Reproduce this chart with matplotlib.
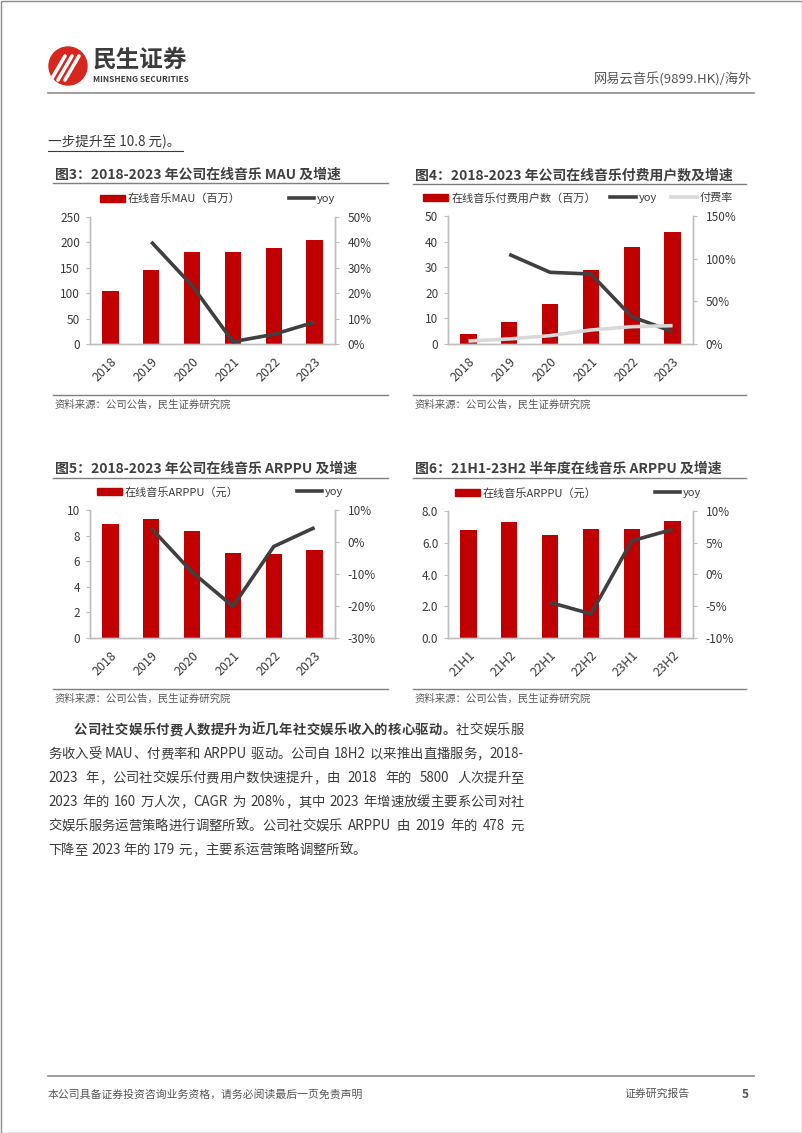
import numpy as np
import matplotlib
matplotlib.use('Agg')
import matplotlib.pyplot as plt
from matplotlib.patches import Patch, Circle, Rectangle
from matplotlib.lines import Line2D
from matplotlib.ticker import FuncFormatter

plt.rcParams['font.family'] = ['Noto Sans CJK SC', 'DejaVu Sans']

# ---- data ----
years = ['2018', '2019', '2020', '2021', '2022', '2023']
halves = ['21H1', '21H2', '22H1', '22H2', '23H1', '23H2']

mau = [104, 146.5, 180.5, 182, 189, 205.5]
mau_yoy = [np.nan, 40.2, 23.0, 0.9, 3.8, 8.6]

paid_users = [3.9, 8.5, 15.6, 28.9, 38.0, 43.9]
paid_yoy = [np.nan, 105, 84, 82, 32, 14.5]
pay_rate = [3.5, 5.9, 9.8, 16.4, 20.3, 21.5]

arppu = [8.88, 9.27, 8.36, 6.65, 6.57, 6.88]
arppu_yoy = [np.nan, 4.3, -9.4, -20.1, -1.4, 4.5]

arppu_h = [6.81, 7.33, 6.51, 6.87, 6.85, 7.35]
arppu_h_yoy = [np.nan, np.nan, -4.4, -6.2, 5.3, 7.1]

RED = '#c00000'
DARK = '#404040'
LIGHT = '#d9d9d9'
SPINE = '#bfbfbf'
TXT = '#3a3a3a'
BODY_FS = 9.6

W, H = 802, 1133
fig = plt.figure(figsize=(W / 100, H / 100), dpi=100)
renderer = fig.canvas.get_renderer()

bg = fig.add_axes([0, 0, 1, 1], zorder=0)
bg.set_xlim(0, W)
bg.set_ylim(H, 0)
bg.axis('off')

# page border
bg.add_patch(Rectangle((0.5, 0.5), W - 1, H - 1, fill=False, ec='#8c8c8c', lw=1))

# header logo
bg.add_patch(Circle((68, 66), 19, color='#d7261e'))
for dx in (-7, 0, 7):
    bg.plot([58 + dx, 72 + dx], [80, 56], color='white', lw=2.6, solid_capstyle='round')
bg.text(93, 60, '民生证券', fontsize=17, fontweight='bold', color='#3c3c3c', va='center', ha='left')
bg.text(93, 79, 'MINSHENG SECURITIES', fontsize=6, fontweight='bold', color='#3c3c3c', va='center', ha='left')
bg.text(752, 79, '网易云音乐(9899.HK)/海外', fontsize=9.5, color='#555555', va='center', ha='right')
bg.plot([48, 754], [93, 93], color='#8c8c8c', lw=1.2)

bg.text(48, 142, '一步提升至 10.8 元)。', fontsize=9.8, color=TXT, va='center', ha='left')
bg.plot([48, 183], [151, 151], color=TXT, lw=0.8)


def pct(v, pos):
    return f'{v:.0f}%'


def make_chart(box, title, title_y, line_y, src_y, x0, x1, cats, bars, bar_label, lines,
               ylim_l, yticks_l, ylim_r, yticks_r, lfmt, legend_cs, legend_dx):
    # title, rule lines and source
    bg.text(x0 + 2, title_y, title, fontsize=10, fontweight='bold', color=DARK, va='center', ha='left')
    bg.plot([x0, x1], [line_y, line_y], color='#7f7f7f', lw=1)
    bg.plot([x0, x1], [src_y, src_y], color='#7f7f7f', lw=1)
    bg.text(x0 + 2, src_y + 10, '资料来源：公司公告，民生证券研究院', fontsize=7.5, color='#595959',
            va='center', ha='left')

    left, top, right, bottom = box
    ax = fig.add_axes([left / W, 1 - bottom / H, (right - left) / W, (bottom - top) / H], zorder=2)
    x = np.arange(len(cats))
    ax.bar(x, bars, width=0.4, color=RED, zorder=2)
    ax.set_xlim(-0.5, len(cats) - 0.5)
    ax.set_ylim(*ylim_l)
    ax.set_yticks(yticks_l)
    ax.yaxis.set_major_formatter(FuncFormatter(lfmt))
    ax.set_xticks(x)
    ax.set_xticklabels(cats, rotation=45, ha='right', va='top', rotation_mode='anchor')
    ax.tick_params(axis='x', length=0, pad=8, labelsize=9, labelcolor=TXT)
    ax.tick_params(axis='y', length=3, width=0.8, color=SPINE, pad=4, labelsize=8.5, labelcolor=TXT)
    ax.spines['top'].set_visible(False)
    for s in ('left', 'bottom', 'right'):
        ax.spines[s].set_color(SPINE)
        ax.spines[s].set_linewidth(1)

    ax2 = ax.twinx()
    handles = [Patch(color=RED, label=bar_label)]
    for vals, color, label in lines:
        ax2.plot(x, vals, color=color, lw=2.6, zorder=3, solid_capstyle='butt')
        handles.append(Line2D([], [], color=color, lw=2.6, label=label))
    ax2.set_ylim(*ylim_r)
    ax2.set_yticks(yticks_r)
    ax2.yaxis.set_major_formatter(FuncFormatter(pct))
    ax2.tick_params(axis='y', length=3, width=0.8, color=SPINE, pad=6, labelsize=8.5, labelcolor=TXT)
    ax2.spines['top'].set_visible(False)
    for s in ('left', 'bottom', 'right'):
        ax2.spines[s].set_color(SPINE)
        ax2.spines[s].set_linewidth(1)

    ax2.legend(handles=handles, loc='center', ncol=len(handles), frameon=False,
               bbox_to_anchor=(0.5 + legend_dx, 1 + 18 / (bottom - top)),
               fontsize=8, handlelength=2.3, handletextpad=0.25, columnspacing=legend_cs,
               borderaxespad=0, borderpad=0, labelcolor=TXT)
    return ax


make_chart((90, 217, 335, 344), '图3：2018-2023 年公司在线音乐 MAU 及增速', 175, 183, 395, 53, 388,
           years, mau, '在线音乐MAU（百万）', [(mau_yoy, DARK, 'yoy')],
           (0, 250), range(0, 251, 50), (0, 50), range(0, 51, 10),
           lambda v, p: f'{v:.0f}', 4.3, 0.02)

make_chart((448, 216, 693, 344), '图4：2018-2023 年公司在线音乐付费用户数及增速', 175, 184, 395, 413, 746,
           years, paid_users, '在线音乐付费用户数（百万）',
           [(paid_yoy, DARK, 'yoy'), (pay_rate, LIGHT, '付费率')],
           (0, 50), range(0, 51, 10), (0, 150), range(0, 151, 50),
           lambda v, p: f'{v:.0f}', 1.3, 0.03)

make_chart((90, 510, 335, 638), '图5：2018-2023 年公司在线音乐 ARPPU 及增速', 469, 478, 689, 53, 388,
           years, arppu, '在线音乐ARPPU（元）', [(arppu_yoy, DARK, 'yoy')],
           (0, 10), range(0, 11, 2), (-30, 10), range(-30, 11, 10),
           lambda v, p: f'{v:.0f}', 5.2, 0.03)

make_chart((448, 511, 693, 638), '图6：21H1-23H2 半年度在线音乐 ARPPU 及增速', 469, 478, 689, 413, 746,
           halves, arppu_h, '在线音乐ARPPU（元）', [(arppu_h_yoy, DARK, 'yoy')],
           (0, 8), np.arange(0, 8.1, 2), (-10, 10), range(-10, 11, 5),
           lambda v, p: f'{v:.1f}', 5.2, 0.03)


# body paragraph, justified line by line
def tokens_of(segments):
    out = []
    for text, weight in segments:
        buf = ''
        for ch in text:
            if ch.isascii() and ch != ' ':
                buf += ch
            else:
                if buf:
                    out.append((buf, weight))
                    buf = ''
                out.append((ch, weight))
        if buf:
            out.append((buf, weight))
    return out


def text_width(s, weight):
    t = bg.text(0, 0, s, fontsize=BODY_FS, fontweight=weight)
    w = t.get_window_extent(renderer).width
    t.remove()
    return w


def draw_line(y, x_start, x_end, segments, justify=True):
    toks = tokens_of(segments)
    widths = []
    for s, wt in toks:
        if s == ' ':
            widths.append(max(text_width('a a', wt) - text_width('aa', wt), 3.0))
        else:
            widths.append(text_width(s, wt))
    extra = x_end - x_start - sum(widths)
    n_sp = sum(1 for s, _ in toks if s == ' ')
    gap, sp_add = 0, 0
    if justify:
        if n_sp and extra > 0:
            sp_add = extra / n_sp
        elif len(toks) > 1:
            gap = extra / (len(toks) - 1)
    x = x_start
    for (s, wt), w in zip(toks, widths):
        if s == ' ':
            x += w + sp_add + gap
            continue
        bg.text(x, y, s, fontsize=BODY_FS, fontweight=wt, color=TXT, va='center', ha='left')
        x += w + gap


body_lines = [
    [('公司社交娱乐付费人数提升为近几年社交娱乐收入的核心驱动。', 'bold'), ('社交娱乐服', 'normal')],
    [('务收入受 MAU、付费率和 ARPPU 驱动。公司自 18H2 以来推出直播服务，2018-', 'normal')],
    [('2023 年，公司社交娱乐付费用户数快速提升，由 2018 年的 5800 人次提升至', 'normal')],
    [('2023 年的 160 万人次，CAGR 为 208%，其中 2023 年增速放缓主要系公司对社', 'normal')],
    [('交娱乐服务运营策略进行调整所致。公司社交娱乐 ARPPU 由 2019 年的 478 元', 'normal')],
    [('下降至 2023 年的 179 元，主要系运营策略调整所致。', 'normal')],
]
for i, segs in enumerate(body_lines):
    x_start = 74 if i == 0 else 48
    draw_line(730 + i * 24, x_start, 524, segs, justify=(i < len(body_lines) - 1))

# footer
bg.plot([48, 754], [1076, 1076], color='#8c8c8c', lw=1.2)
bg.text(48, 1094, '本公司具备证券投资咨询业务资格，请务必阅读最后一页免责声明', fontsize=7.8, color='#555555',
        va='center', ha='left')
bg.text(624, 1094, '证券研究报告', fontsize=7.8, color='#555555', va='center', ha='left')
bg.text(745, 1094, '5', fontsize=8.5, fontweight='bold', color='#555555', va='center', ha='center')

fig.savefig('out.png', dpi=100)
